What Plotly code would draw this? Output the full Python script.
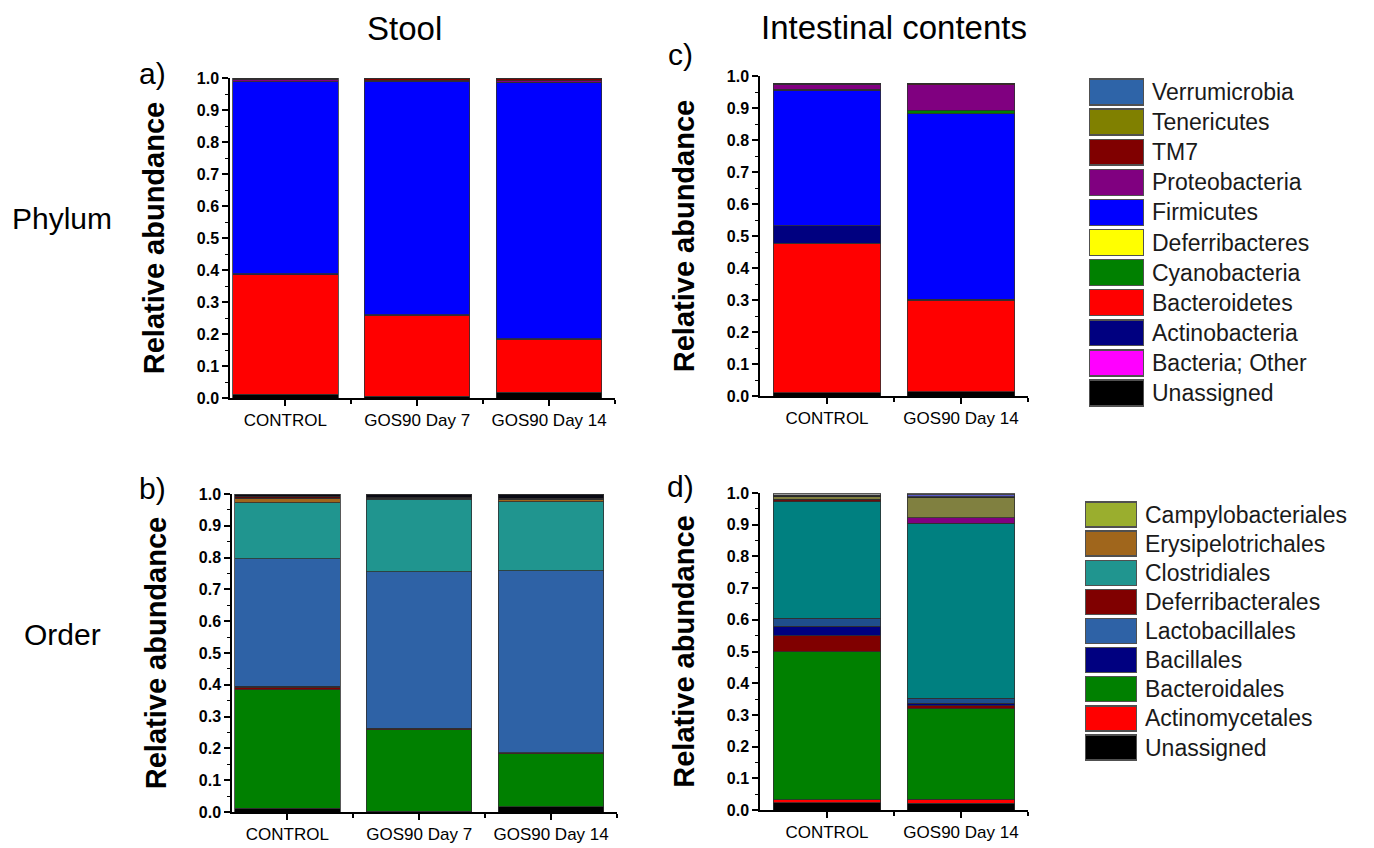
import plotly.graph_objects as go

# ---------------- DATA ----------------
stool_cats = ["CONTROL", "GOS90 Day 7", "GOS90 Day 14"]
int_cats = ["CONTROL", "GOS90 Day 14"]

# Phylum level, stacking order bottom -> top
stool_phylum = {
    "Unassigned":      [0.012, 0.005, 0.018],
    "Bacteria; Other": [0.000, 0.000, 0.000],
    "Bacteroidetes":   [0.373, 0.253, 0.165],
    "Actinobacteria":  [0.004, 0.002, 0.002],
    "Firmicutes":      [0.599, 0.730, 0.800],
    "Cyanobacteria":   [0.001, 0.001, 0.001],
    "Deferribacteres": [0.000, 0.000, 0.000],
    "Proteobacteria":  [0.007, 0.001, 0.005],
    "TM7":             [0.002, 0.006, 0.006],
    "Tenericutes":     [0.001, 0.002, 0.002],
    "Verrumicrobia":   [0.001, 0.000, 0.001],
}
int_phylum = {
    "Unassigned":      [0.010, 0.014],
    "Bacteria; Other": [0.000, 0.000],
    "Bacteroidetes":   [0.468, 0.286],
    "Actinobacteria":  [0.054, 0.003],
    "Firmicutes":      [0.423, 0.579],
    "Cyanobacteria":   [0.004, 0.011],
    "Deferribacteres": [0.000, 0.000],
    "Proteobacteria":  [0.015, 0.080],
    "TM7":             [0.002, 0.003],
    "Tenericutes":     [0.000, 0.000],
    "Verrumicrobia":   [0.000, 0.000],
}

# Order level, stacking order bottom -> top (last entries: minor unlisted orders)
stool_order = {
    "Unassigned":         [0.012, 0.003, 0.016],
    "Actinomycetales":    [0.000, 0.000, 0.000],
    "Bacteroidales":      [0.373, 0.255, 0.167],
    "Deferribacterales":  [0.008, 0.004, 0.003],
    "Bacillales":         [0.002, 0.001, 0.001],
    "Lactobacillales":    [0.402, 0.492, 0.571],
    "Clostridiales":      [0.175, 0.229, 0.217],
    "Erysipelotrichales": [0.015, 0.003, 0.008],
    "Campylobacteriales": [0.000, 0.000, 0.000],
    "Other order 1":      [0.005, 0.002, 0.004],
    "Other order 2":      [0.006, 0.010, 0.012],
    "Other order 3":      [0.002, 0.001, 0.001],
}
int_order = {
    "Unassigned":         [0.023, 0.021],
    "Actinomycetales":    [0.009, 0.013],
    "Bacteroidales":      [0.468, 0.286],
    "Deferribacterales":  [0.050, 0.009],
    "Bacillales":         [0.030, 0.008],
    "Lactobacillales":    [0.025, 0.015],
    "Clostridiales":      [0.367, 0.552],
    "Erysipelotrichales": [0.009, 0.000],
    "Other order 4":      [0.000, 0.018],
    "Campylobacteriales": [0.007, 0.063],
    "Other order 2":      [0.005, 0.003],
    "Other order 5":      [0.000, 0.006],
    "Other order 3":      [0.005, 0.004],
}

phylum_legend = ["Verrumicrobia", "Tenericutes", "TM7", "Proteobacteria", "Firmicutes",
                 "Deferribacteres", "Cyanobacteria", "Bacteroidetes", "Actinobacteria",
                 "Bacteria; Other", "Unassigned"]
order_legend = ["Campylobacteriales", "Erysipelotrichales", "Clostridiales", "Deferribacterales",
                "Lactobacillales", "Bacillales", "Bacteroidales", "Actinomycetales", "Unassigned"]

# ---------------- STYLE ----------------
phylum_colors = {
    "Verrumicrobia": "#2E64A8", "Tenericutes": "#808000", "TM7": "#800000",
    "Proteobacteria": "#800080", "Firmicutes": "#0000FF", "Deferribacteres": "#FFFF00",
    "Cyanobacteria": "#008000", "Bacteroidetes": "#FF0000", "Actinobacteria": "#000080",
    "Bacteria; Other": "#FF00FF", "Unassigned": "#000000",
}
order_colors = {
    "Campylobacteriales": "#9AAE2E", "Erysipelotrichales": "#A0661C", "Clostridiales": "#20958F",
    "Deferribacterales": "#800000", "Lactobacillales": "#2E62A6", "Bacillales": "#000080",
    "Bacteroidales": "#008000", "Actinomycetales": "#FF0000", "Unassigned": "#000000",
    "Other order 1": "#5A0A0A", "Other order 2": "#0A0A14", "Other order 3": "#9A9A9A",
    "Other order 4": "#800080", "Other order 5": "#5A5AC8",
}
# intestinal order panel uses darker variants
order_colors_d = dict(order_colors)
order_colors_d.update({"Clostridiales": "#008080", "Lactobacillales": "#1F4E8C",
                       "Campylobacteriales": "#808040", "Erysipelotrichales": "#6A0E0E"})

FONT = "Liberation Sans, Arial, sans-serif"
OFF = 8                      # the page body has an 8px margin
W, H = 1374 - OFF, 848 - OFF


def dx(l, r):
    return [(l - OFF) / W, (r - OFF) / W]


def dy(top, bottom):
    return [1 - (bottom - OFF) / H, 1 - (top - OFF) / H]


fig = go.Figure()


def add_stack(data, cats, colors, ax):
    xs = list(range(len(cats)))
    for name, vals in data.items():
        fig.add_trace(go.Bar(
            x=xs, y=vals, name=name, width=0.8,
            marker=dict(color=colors[name], line=dict(color="#303030", width=0.8)),
            xaxis="x" + ax, yaxis="y" + ax, showlegend=False,
            hovertemplate=name + ": %{y:.3f}<extra></extra>",
        ))


add_stack(stool_phylum, stool_cats, phylum_colors, "")
add_stack(stool_order, stool_cats, order_colors, "2")
add_stack(int_phylum, int_cats, phylum_colors, "3")
add_stack(int_order, int_cats, order_colors_d, "4")


def legend_axis(names, colors, ax):
    fig.add_trace(go.Bar(
        y=names, x=[1] * len(names), orientation="h", width=0.86,
        marker=dict(color=[colors[n] for n in names], line=dict(color="#505050", width=1.5)),
        xaxis="x" + ax, yaxis="y" + ax, showlegend=False, hoverinfo="y",
    ))


legend_axis(phylum_legend, phylum_colors, "5")
legend_axis(order_legend, order_colors, "6")


def xaxis_cfg(cats, dom, rng, anchor):
    n = len(cats)
    return dict(
        domain=dom, range=rng, anchor=anchor, automargin=False,
        tickmode="array", tickvals=list(range(n)), ticktext=cats,
        ticks="outside", ticklen=6, tickwidth=1.5, tickcolor="black",
        showline=True, linecolor="black", linewidth=1.5, showgrid=False, zeroline=False,
        tickfont=dict(family=FONT, size=17, color="black"),
        minor=dict(tickmode="array", tickvals=[i + 0.5 for i in range(n)],
                   ticks="outside", ticklen=4, tickwidth=1.5, tickcolor="black"),
        fixedrange=True,
    )


def yaxis_cfg(dom, anchor):
    return dict(
        domain=dom, range=[0, 1.0], anchor=anchor, automargin=False,
        tickmode="linear", tick0=0, dtick=0.1,
        tickformat=".1f", ticks="outside", ticklen=6, tickwidth=1.5, tickcolor="black",
        showline=True, linecolor="black", linewidth=1.5, showgrid=False, zeroline=False,
        tickfont=dict(family=FONT, size=16, color="black", weight="bold"),
        minor=dict(dtick=0.05, tick0=0, ticks="outside", ticklen=3, tickwidth=1.2, tickcolor="black"),
        title=dict(text="Relative abundance", standoff=24,
                   font=dict(family=FONT, size=29, color="black", weight="bold")),
        fixedrange=True,
    )


def legend_y(names, dom, anchor):
    n = len(names)
    return dict(
        domain=dom, anchor=anchor, automargin=False, type="category",
        categoryorder="array", categoryarray=names,
        range=[n - 0.5, -0.5], side="right", showline=False, showgrid=False, zeroline=False,
        ticks="", ticklabelstandoff=7,
        tickfont=dict(family=FONT, size=23, color="#1a1a1a"), fixedrange=True,
    )


def hidden_x(dom, anchor):
    return dict(domain=dom, range=[0, 1], visible=False, anchor=anchor,
                automargin=False, fixedrange=True)


fig.update_layout(
    width=W, height=H, margin=dict(l=0, r=0, t=0, b=0, pad=0, autoexpand=False),
    paper_bgcolor="white", plot_bgcolor="white", barmode="stack", bargap=0.2,
    font=dict(family=FONT, color="black"),
    xaxis=xaxis_cfg(stool_cats, dx(230, 615), [-0.42, 2.5], "y"),
    yaxis=yaxis_cfg(dy(78, 398), "x"),
    xaxis2=xaxis_cfg(stool_cats, dx(232, 617), [-0.42, 2.5], "y2"),
    yaxis2=yaxis_cfg(dy(494, 812), "x2"),
    xaxis3=xaxis_cfg(int_cats, dx(760, 1028), [-0.5, 1.5], "y3"),
    yaxis3=yaxis_cfg(dy(76, 396), "x3"),
    xaxis4=xaxis_cfg(int_cats, dx(760, 1028), [-0.5, 1.5], "y4"),
    yaxis4=yaxis_cfg(dy(493, 810), "x4"),
    xaxis5=hidden_x(dx(1089, 1144), "y5"),
    yaxis5=legend_y(phylum_legend, dy(77, 408), "x5"),
    xaxis6=hidden_x(dx(1085, 1137), "y6"),
    yaxis6=legend_y(order_legend, dy(500, 762), "x6"),
)


def label(text, x, y, size):
    fig.add_annotation(text=text, x=(x - OFF) / W, y=1 - (y - OFF) / H, xref="paper", yref="paper",
                       showarrow=False, xanchor="center", yanchor="middle",
                       font=dict(family=FONT, size=size, color="black"))


label("Stool", 404, 28, 33)
label("Intestinal contents", 894, 27, 33)
label("a)", 152, 74, 30)
label("b)", 152, 488, 30)
label("c)", 680, 54, 30)
label("d)", 680, 486, 30)
label("Phylum", 62, 218, 30)
label("Order", 62, 634, 30)

fig.write_html("out.html")
